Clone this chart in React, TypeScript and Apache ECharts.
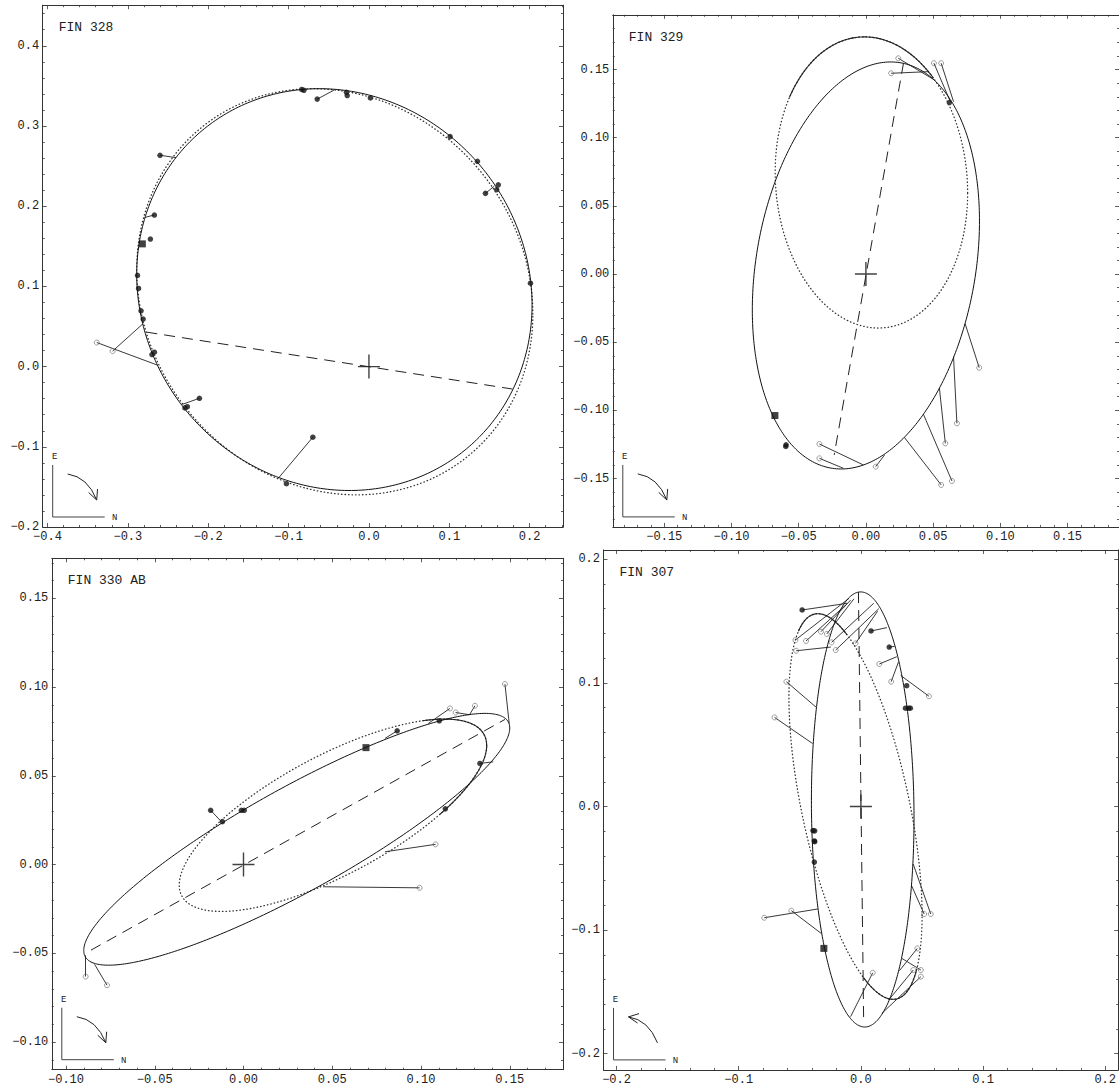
import React, { useEffect, useRef } from "react";
import * as echarts from "echarts";

// ---------- tick labels ----------
const P1_XTICKS = [-0.4, -0.3, -0.2, -0.1, 0, 0.1, 0.2];
const P1_YTICKS = [-0.2, -0.1, 0, 0.1, 0.2, 0.3, 0.4];
const P2_XTICKS = [-0.15, -0.1, -0.05, 0, 0.05, 0.1, 0.15];
const P2_YTICKS = [-0.15, -0.1, -0.05, 0, 0.05, 0.1, 0.15];
const P3_XTICKS = [-0.1, -0.05, 0, 0.05, 0.1, 0.15];
const P3_YTICKS = [-0.1, -0.05, 0, 0.05, 0.1, 0.15];
const P4_XTICKS = [-0.2, -0.1, 0, 0.1, 0.2];
const P4_YTICKS = [-0.2, -0.1, 0, 0.1, 0.2];

// ---------- orbits: [centerX, centerY, halfWidth, halfHeight, phase] ----------
const P1_ORBIT = [-0.043, 0.096, 0.246, 0.2505, -0.076];
const P1_PREV = [-0.0425, 0.0933, 0.2465, 0.2532, -0.11];
const P2_ORBIT = [0.0, 0.0063, 0.0845, 0.1493, 0.22];
const P2_PREV = [0.0041, 0.0672, 0.0716, 0.1068, -0.072];
const P3_ORBIT = [0.03, 0.01425, 0.12, 0.07095, 1.083];
const P3_PREV = [0.0504, 0.0278, 0.0866, 0.0542, 0.811];
const P4_ORBIT = [0.0015, -0.0024, 0.042, 0.176, -0.04];
const P4_PREV = [-0.0044, 0.0, 0.0545, 0.156, -0.6];

// dense (slow-motion) arcs of the previous orbits: parameter ranges
const P1_DENSE: number[][] = [];
const P2_DENSE = [[0.87, 2.59]];
const P3_DENSE = [[-0.8, 0.95]];
const P4_DENSE = [[1.7, 2.6], [-1.45, -0.41]];

// ---------- line of nodes ----------
const P1_NODES = [[-0.277, 0.043], [0.1787, -0.028]];
const P2_NODES = [[0.028, 0.1549], [-0.0236, -0.1327]];
const P3_NODES = [[-0.0859, -0.0482], [0.1473, 0.0818]];
const P4_NODES = [[-0.002, 0.1735], [0.0023, -0.176]];

// ---------- measures ----------
const P1_FILLED = [
  [-0.0836, 0.3455], [-0.081, 0.3445], [-0.0644, 0.3335], [-0.028, 0.342], [-0.027, 0.338], [0.0018, 0.335],
  [0.101, 0.2867], [0.135, 0.256], [0.145, 0.216], [0.161, 0.2266], [0.159, 0.2206], [0.201, 0.104],
  [-0.26, 0.2635], [-0.267, 0.189], [-0.272, 0.159], [-0.288, 0.1137], [-0.2867, 0.0974], [-0.2836, 0.0695],
  [-0.281, 0.0592], [-0.27, 0.015], [-0.267, 0.018], [-0.229, -0.0515], [-0.226, -0.05], [-0.211, -0.0395],
  [-0.0698, -0.088], [-0.1027, -0.146],
];
const P1_SQUARE = [[-0.282, 0.153]];
const P1_OPEN = [[-0.3387, 0.03], [-0.319, 0.0193]];
const P1_RESID = [
  [-0.0644, 0.3335, -0.0436, 0.3446],
  [0.145, 0.216, 0.156, 0.225],
  [-0.26, 0.2635, -0.24, 0.2605],
  [-0.267, 0.189, -0.279, 0.186],
  [-0.211, -0.0395, -0.232, -0.047],
  [-0.0698, -0.088, -0.113, -0.1395],
  [-0.3387, 0.03, -0.2636, 0.002],
  [-0.319, 0.0193, -0.281, 0.0536],
];

const P2_FILLED = [[0.0621, 0.1258], [-0.0594, -0.1253], [-0.0596, -0.1265]];
const P2_SQUARE = [[-0.0677, -0.1038]];
const P2_OPEN = [
  [0.0241, 0.1583], [0.0188, 0.1473], [0.0506, 0.1547], [0.056, 0.1547],
  [-0.0346, -0.1247], [-0.0346, -0.1352], [0.0073, -0.1413], [0.056, -0.1547],
  [0.064, -0.1518], [0.0591, -0.1242], [0.0677, -0.1095], [0.0843, -0.0687],
];
const P2_RESID = [
  [0.0241, 0.1583, 0.05, 0.143],
  [0.0188, 0.1473, 0.0469, 0.1485],
  [0.0506, 0.1547, 0.0628, 0.1265],
  [0.056, 0.1547, 0.0652, 0.1265],
  [-0.0346, -0.1247, -0.002, -0.14],
  [-0.0346, -0.1352, -0.0167, -0.1425],
  [0.0073, -0.1413, 0.0139, -0.1327],
  [0.056, -0.1547, 0.0286, -0.1198],
  [0.064, -0.1518, 0.0428, -0.1029],
  [0.0591, -0.1242, 0.0547, -0.0838],
  [0.0677, -0.1095, 0.0652, -0.0606],
  [0.0843, -0.0687, 0.0738, -0.0364],
];

const P3_FILLED = [
  [-0.0185, 0.0306], [-0.0119, 0.0242], [-0.0012, 0.0306], [0.0004, 0.0306],
  [0.0866, 0.0754], [0.1103, 0.081], [0.1332, 0.057], [0.1137, 0.0314],
];
const P3_SQUARE = [[0.069, 0.0659]];
const P3_OPEN = [
  [0.1473, 0.1017], [0.1163, 0.088], [0.1195, 0.0857], [0.1304, 0.0895],
  [0.1082, 0.0114], [0.0992, -0.0131], [-0.0889, -0.0631], [-0.0769, -0.068],
];
const P3_RESID = [
  [-0.0185, 0.0306, -0.0125, 0.0242],
  [0.0866, 0.0754, 0.0797, 0.0711],
  [0.1332, 0.057, 0.1407, 0.0579],
  [0.1473, 0.1017, 0.1497, 0.0795],
  [0.1163, 0.088, 0.1041, 0.0795],
  [0.1195, 0.0857, 0.127, 0.0845],
  [0.1304, 0.0895, 0.1272, 0.0842],
  [0.1082, 0.0114, 0.0797, 0.0072],
  [0.0992, -0.0131, 0.0449, -0.0125],
  [-0.0889, -0.0631, -0.0889, -0.0512],
  [-0.0769, -0.068, -0.0839, -0.0562],
];

const P4_FILLED = [
  [-0.0481, 0.159], [0.0083, 0.142], [0.0232, 0.129], [0.0375, 0.0977],
  [0.0365, 0.0795], [0.039, 0.0795], [0.0405, 0.0795],
  [-0.0392, -0.0195], [-0.0378, -0.0197], [-0.0381, -0.0279], [-0.0378, -0.0285], [-0.0381, -0.045],
];
const P4_SQUARE = [[-0.0303, -0.1148]];
const P4_OPEN = [
  [-0.0536, 0.1347], [-0.0449, 0.1339], [-0.0327, 0.1414], [-0.0279, 0.1396], [-0.024, 0.1328],
  [-0.0206, 0.1266], [-0.0044, 0.132], [-0.053, 0.126], [-0.061, 0.101], [0.0151, 0.1153],
  [0.0248, 0.101], [0.0557, 0.0892], [-0.0707, 0.0721], [-0.0791, -0.09], [-0.0569, -0.0843],
  [0.0572, -0.087], [0.0518, -0.087], [0.0462, -0.1148], [0.0491, -0.1323], [0.0429, -0.1323],
  [0.0491, -0.1377], [0.0097, -0.1345],
];
const P4_RESID = [
  [-0.0481, 0.159, -0.0111, 0.1644],
  [0.0083, 0.142, 0.0213, 0.1447],
  [0.0232, 0.129, 0.0275, 0.1295],
  [-0.0536, 0.1347, -0.0097, 0.1684],
  [-0.0449, 0.1339, -0.0125, 0.163],
  [-0.0327, 0.1414, -0.0084, 0.167],
  [-0.0279, 0.1396, -0.0057, 0.168],
  [-0.024, 0.1328, 0.0105, 0.1644],
  [-0.0206, 0.1266, 0.0146, 0.16],
  [-0.0044, 0.132, 0.0137, 0.158],
  [-0.053, 0.126, -0.0246, 0.129],
  [-0.061, 0.101, -0.0366, 0.0803],
  [0.0151, 0.1153, 0.0294, 0.1212],
  [0.0248, 0.101, 0.0308, 0.117],
  [0.0557, 0.0892, 0.0326, 0.106],
  [-0.0707, 0.0721, -0.0396, 0.051],
  [-0.0791, -0.09, -0.0352, -0.0829],
  [-0.0569, -0.0843, -0.0323, -0.1028],
  [0.0572, -0.087, 0.0428, -0.0465],
  [0.0518, -0.087, 0.0413, -0.0636],
  [0.0462, -0.1148, 0.0316, -0.1328],
  [0.0491, -0.1323, 0.0334, -0.1228],
  [0.0429, -0.1323, 0.0227, -0.1566],
  [0.0491, -0.1377, 0.0172, -0.1673],
  [0.0097, -0.1345, -0.0084, -0.17],
];

// ---------- panel layout ----------
const PANELS = [
  { title: "FIN 328", box: [42.7, 5.2, 563, 527], x: [-0.406, 0.2415], y: [-0.2, 0.4506], xt: P1_XTICKS, yt: P1_YTICKS, minor: 0.02, dec: 1, cw: true,
    orbit: P1_ORBIT, prev: P1_PREV, dense: P1_DENSE, nodes: P1_NODES, filled: P1_FILLED, square: P1_SQUARE, open: P1_OPEN, resid: P1_RESID },
  { title: "FIN 329", box: [612.8, 14.8, 1126.1, 526.9], x: [-0.1883, 0.1883], y: [-0.1855, 0.1902], xt: P2_XTICKS, yt: P2_YTICKS, minor: 0.01, dec: 2, cw: true,
    orbit: P2_ORBIT, prev: P2_PREV, dense: P2_DENSE, nodes: P2_NODES, filled: P2_FILLED, square: P2_SQUARE, open: P2_OPEN, resid: P2_RESID },
  { title: "FIN 330 AB", box: [51.8, 558.3, 563, 1069.7], x: [-0.108, 0.18], y: [-0.1156, 0.1726], xt: P3_XTICKS, yt: P3_YTICKS, minor: 0.01, dec: 2, cw: true,
    orbit: P3_ORBIT, prev: P3_PREV, dense: P3_DENSE, nodes: P3_NODES, filled: P3_FILLED, square: P3_SQUARE, open: P3_OPEN, resid: P3_RESID },
  { title: "FIN 307", box: [603.5, 549.9, 1124, 1069.9], x: [-0.2107, 0.2107], y: [-0.2131, 0.2076], xt: P4_XTICKS, yt: P4_YTICKS, minor: 0.02, dec: 1, cw: false,
    orbit: P4_ORBIT, prev: P4_PREV, dense: P4_DENSE, nodes: P4_NODES, filled: P4_FILLED, square: P4_SQUARE, open: P4_OPEN, resid: P4_RESID },
];

const FONT = "Liberation Mono";
const INK = "#222";

function ellipse(e: number[], t0 = 0, t1 = Math.PI * 2, n = 360) {
  const [cx, cy, w, h, ph] = e;
  const pts: number[][] = [];
  for (let i = 0; i <= n; i++) {
    const t = t0 + ((t1 - t0) * i) / n;
    pts.push([cx + w * Math.cos(t), cy + h * Math.sin(t + ph)]);
  }
  return pts;
}

function fmt(v: number, d: number) {
  const s = Math.abs(v).toFixed(d);
  return (v < -1e-9 ? "\u2212" : "") + s;
}

function minors(range: number[], step: number, majors: number[]) {
  const out: number[] = [];
  const a = Math.ceil(range[0] / step - 1e-9);
  const b = Math.floor(range[1] / step + 1e-9);
  for (let k = a; k <= b; k++) {
    const v = +(k * step).toFixed(6);
    if (!majors.some((m) => Math.abs(m - v) < 1e-7)) out.push(v);
  }
  return out;
}

function axis(gi: number, pos: string, range: number[], values: number[], label: boolean, len: number, dec: number, line: boolean) {
  return {
    type: "value",
    gridIndex: gi,
    position: pos,
    min: range[0],
    max: range[1],
    axisLine: { show: line, onZero: false, lineStyle: { color: "#333", width: 1 } },
    axisTick: { show: true, inside: true, length: len, customValues: values, lineStyle: { color: "#333", width: 0.8 } },
    axisLabel: {
      show: label,
      customValues: values,
      formatter: (v: number) => fmt(v, dec),
      margin: pos === "bottom" ? 4 : 3.5,
      fontFamily: FONT,
      fontSize: 12,
      color: INK,
      hideOverlap: false,
    },
    splitLine: { show: false },
    minorTick: { show: false },
  };
}

function buildOption() {
  const grid: any[] = [];
  const xAxis: any[] = [];
  const yAxis: any[] = [];
  const series: any[] = [];
  const graphic: any[] = [];

  PANELS.forEach((p, i) => {
    const [L, T, R, B] = p.box;
    grid.push({ left: L, top: T, width: R - L, height: B - T, containLabel: false });
    const xm = minors(p.x, p.minor, p.xt);
    const ym = minors(p.y, p.minor, p.yt);
    xAxis.push(axis(i, "bottom", p.x, p.xt, true, 4, p.dec, true));
    xAxis.push(axis(i, "bottom", p.x, xm, false, 2, p.dec, false));
    xAxis.push(axis(i, "top", p.x, p.xt, false, 4, p.dec, true));
    xAxis.push(axis(i, "top", p.x, xm, false, 2, p.dec, false));
    yAxis.push(axis(i, "left", p.y, p.yt, true, 4, p.dec, true));
    yAxis.push(axis(i, "left", p.y, ym, false, 2, p.dec, false));
    yAxis.push(axis(i, "right", p.y, p.yt, false, 4, p.dec, true));
    yAxis.push(axis(i, "right", p.y, ym, false, 2, p.dec, false));

    const ax = { xAxisIndex: 4 * i, yAxisIndex: 4 * i, silent: true };
    series.push({ ...ax, type: "line", data: ellipse(p.prev), symbol: "none",
      lineStyle: { color: "#333", width: 1.3, type: [0.5, 3], cap: "round" } });
    p.dense.forEach((d) => {
      series.push({ ...ax, type: "line", data: ellipse(p.prev, d[0], d[1], 120), symbol: "none",
        lineStyle: { color: INK, width: 1.1 } });
    });
    series.push({ ...ax, type: "line", data: ellipse(p.orbit), symbol: "none", lineStyle: { color: "#111", width: 1 } });
    series.push({ ...ax, type: "line", data: p.nodes, symbol: "none", lineStyle: { color: INK, width: 1, type: [11, 7] } });
    series.push({ ...ax, type: "lines", coordinateSystem: "cartesian2d", polyline: false,
      data: p.resid.map((r) => ({ coords: [[r[0], r[1]], [r[2], r[3]]] })),
      lineStyle: { color: INK, width: 0.9, opacity: 1, curveness: 0 } });
    series.push({ ...ax, type: "scatter", data: [[0, 0]], symbol: "path://M10.3,0h1.4v24h-1.4zM0,11.3h22v1.4h-22z",
      symbolSize: [22, 24], itemStyle: { color: "#111" } });
    series.push({ ...ax, type: "scatter", data: p.open, symbol: "circle", symbolSize: 5,
      itemStyle: { color: "rgba(255,255,255,0)", borderColor: "#666", borderWidth: 0.8 } });
    series.push({ ...ax, type: "scatter", data: p.filled, symbol: "circle", symbolSize: 5.5, itemStyle: { color: "#111" } });
    series.push({ ...ax, type: "scatter", data: p.square, symbol: "rect", symbolSize: 7, itemStyle: { color: "#111" } });

    // title
    graphic.push({ type: "text", x: L + 16, y: T + 22.5,
      style: { text: p.title, font: `13px "${FONT}"`, fill: INK, verticalAlign: "middle" } });
    // orientation indicator
    const cx = L + 10, cy = B - 10;
    graphic.push({ type: "line", shape: { x1: cx, y1: B - 62, x2: cx, y2: cy }, style: { stroke: "#444", lineWidth: 1 } });
    graphic.push({ type: "line", shape: { x1: cx, y1: cy, x2: L + 62, y2: cy }, style: { stroke: "#444", lineWidth: 1 } });
    graphic.push({ type: "text", x: L + 12, y: B - 70, style: { text: "E", font: `9px "${FONT}"`, fill: INK, align: "center", verticalAlign: "middle" } });
    graphic.push({ type: "text", x: L + 72, y: B - 9, style: { text: "N", font: `9px "${FONT}"`, fill: INK, align: "center", verticalAlign: "middle" } });
    const A = [L + 25, B - 53], Bp = [L + 54, B - 27], C = [L + 45, B - 50];
    graphic.push({ type: "bezierCurve", shape: { x1: A[0], y1: A[1], x2: Bp[0], y2: Bp[1], cpx1: C[0], cpy1: C[1] },
      style: { stroke: INK, fill: null, lineWidth: 1 } });
    const tip = p.cw ? Bp : A;
    let dx = tip[0] - C[0], dy = tip[1] - C[1];
    const len = Math.hypot(dx, dy);
    dx /= len; dy /= len;
    const wing = (ang: number) => {
      const c = Math.cos(ang), s = Math.sin(ang);
      const rx = -dx, ry = -dy;
      return [tip[0] + 11 * (rx * c - ry * s), tip[1] + 11 * (rx * s + ry * c)];
    };
    graphic.push({ type: "polyline", shape: { points: [wing(0.45), tip, wing(-0.45)] },
      style: { stroke: INK, fill: null, lineWidth: 1 } });
  });

  return { animation: false, backgroundColor: "#fff", grid, xAxis, yAxis, series, graphic };
}

export default function App() {
  const ref = useRef<HTMLDivElement>(null);
  useEffect(() => {
    const chart = echarts.init(ref.current as HTMLDivElement, null, { renderer: "svg" });
    chart.setOption(buildOption() as any);
    return () => chart.dispose();
  }, []);
  return (
    <div
      ref={ref}
      style={{ position: "absolute", left: 0, top: 0, width: 1119, height: 1092, background: "#fff" }}
    />
  );
}
